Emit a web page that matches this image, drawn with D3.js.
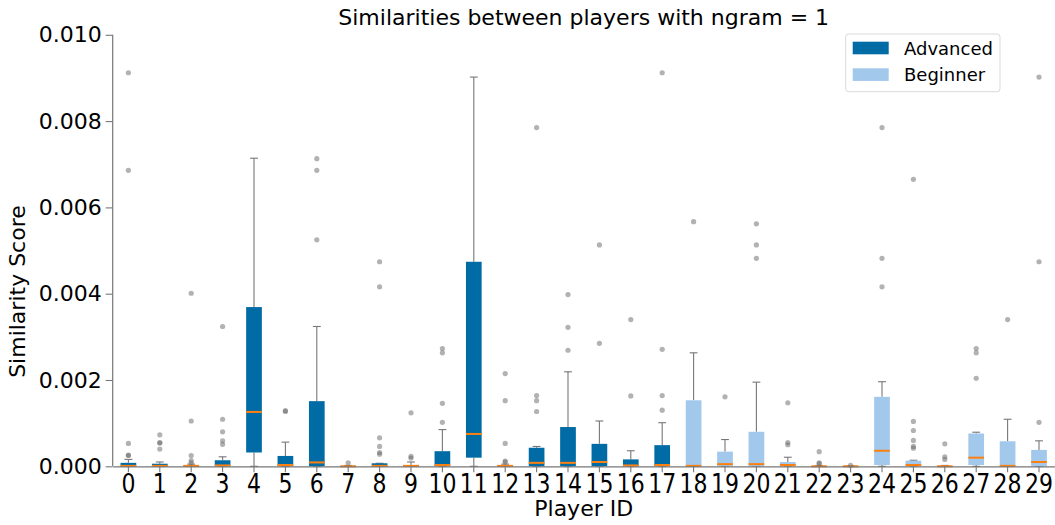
<!DOCTYPE html>
<html>
<head>
<meta charset="utf-8">
<script src="https://cdn.jsdelivr.net/npm/d3@7"></script>
<style>
  html, body { margin: 0; padding: 0; background: #fff; }
  svg { display: block; font-family: "DejaVu Sans", sans-serif; }
</style>
</head>
<body>
<svg id="chart" width="1055" height="525"></svg>
<script>
// Per-player box plot statistics (similarity score)
const playerIds = d3.range(30).map(String);
const groups = [
  "Advanced","Advanced","Advanced","Advanced","Advanced","Advanced","Advanced","Advanced","Advanced","Advanced",
  "Advanced","Advanced","Advanced","Advanced","Advanced","Advanced","Advanced","Advanced",
  "Beginner","Beginner","Beginner","Beginner","Beginner","Beginner","Beginner","Beginner","Beginner","Beginner","Beginner","Beginner"
];
const whiskerLow = new Array(30).fill(0);
const q1 = [0,0,0,0,0.00032,0,0,0,0,0,0,0.0002,0,0,0,0,0,0,0,0,0,0,0,0,0.00003,0,0,0.00003,0,0];
const medians = [0.00001,0.00001,0.00001,0.00002,0.00126,0.00003,0.00009,0,0.00001,0.00001,
  0.00003,0.00075,0.00001,0.00008,0.00008,0.0001,0.00002,0.00003,
  0.00001,0.00005,0.00005,0.00003,0,0,0.00036,0.00003,0,0.0002,0.00001,0.0001];
const q3 = [0.00008,0.00006,0.00002,0.00014,0.00369,0.00024,0.00151,0.00001,0.00007,0.00003,
  0.00035,0.00474,0.00003,0.00043,0.00091,0.00052,0.00016,0.00049,
  0.00153,0.00034,0.0008,0.0001,0.00001,0.00001,0.00161,0.00013,0.00001,0.00076,0.00058,0.00038];
const whiskerHigh = [0.00016,0.0001,0.00005,0.00022,0.00714,0.00056,0.00324,0.00002,0.00007,0.0001,
  0.00085,0.00902,0.00005,0.00046,0.00219,0.00105,0.00036,0.00101,
  0.00263,0.00062,0.00195,0.00021,0.00002,0.00001,0.00196,0.00014,0.00002,0.00079,0.00109,0.00059];
const outliers = [
  [0.00912,0.00686,0.00053,0.00026,0.00025],
  [0.00073,0.00055,0.00054,0.0004],
  [0.00401,0.00105,0.00025,0.00013,0.00008],
  [0.00324,0.00109,0.0008,0.00059,0.00051],
  [],
  [0.00129,0.00127],
  [0.00713,0.00686,0.00525],
  [0.00008],
  [0.00474,0.00416,0.00066,0.00046,0.00032,0.00028],
  [0.00124,0.00023,0.00019],
  [0.00273,0.00263,0.00146,0.00102],
  [],
  [0.00215,0.00152,0.00053,0.00012,0.0001],
  [0.00785,0.00164,0.00152,0.00127],
  [0.00398,0.00322,0.00269],
  [0.00513,0.00285],
  [0.0034,0.00163],
  [0.00912,0.00271,0.00164,0.0013],
  [0.00567],
  [0.00161],
  [0.00562,0.00513,0.00482],
  [0.00147,0.00055,0.0005],
  [0.00034,0.00008,0.00006],
  [0.00002],
  [0.00785,0.00482,0.00416],
  [0.00665,0.00104,0.00083,0.0006,0.00046,0.00042],
  [0.00052,0.00022,0.00016],
  [0.00273,0.00263,0.00204],
  [0.0034],
  [0.00902,0.00474,0.00102]
];
const yTicks = [0, 0.002, 0.004, 0.006, 0.008, 0.010];
const groupNames = ["Advanced", "Beginner"];
const groupColors = ["#006ba4", "#a2c8ec"];

const svg = d3.select("#chart");
const margin = { left: 112.7, right: 0.3, top: 34.8, bottom: 58.7 };
const W = 1055, H = 525;

const x = d3.scaleBand().domain(playerIds).range([margin.left, W - margin.right]).paddingInner(0).paddingOuter(0);
const y = d3.scaleLinear().domain([0, 0.010]).range([H - margin.bottom, margin.top]);
const color = d3.scaleOrdinal().domain(groupNames).range(groupColors);

const axisColor = "#777";

// Boxes
const rows = playerIds.map((id, i) => ({
  id, group: groups[i], lo: whiskerLow[i], q1: q1[i], med: medians[i], q3: q3[i], hi: whiskerHigh[i], fl: outliers[i]
}));
const bw = x.bandwidth() * 0.5;
const cw = x.bandwidth() * 0.25;
const cx = d => x(d.id) + x.bandwidth() / 2;

const g = svg.append("g");
const box = g.selectAll("g.box").data(rows).join("g").attr("class", "box");

// whiskers
box.append("line").attr("x1", cx).attr("x2", cx).attr("y1", d => y(d.q3)).attr("y2", d => y(d.hi))
  .attr("stroke", axisColor).attr("stroke-width", 1.1);
box.append("line").attr("x1", cx).attr("x2", cx).attr("y1", d => y(d.q1)).attr("y2", d => y(d.lo))
  .attr("stroke", axisColor).attr("stroke-width", 1.1);
// caps
box.append("line").attr("x1", d => cx(d) - cw / 2).attr("x2", d => cx(d) + cw / 2)
  .attr("y1", d => y(d.hi)).attr("y2", d => y(d.hi)).attr("stroke", axisColor).attr("stroke-width", 1.1);
box.append("line").attr("x1", d => cx(d) - cw / 2).attr("x2", d => cx(d) + cw / 2)
  .attr("y1", d => y(d.lo)).attr("y2", d => y(d.lo)).attr("stroke", axisColor).attr("stroke-width", 1.1);
// box body
box.append("rect").attr("x", d => cx(d) - bw / 2).attr("width", bw)
  .attr("y", d => y(d.q3)).attr("height", d => Math.max(0, y(d.q1) - y(d.q3)))
  .attr("fill", d => color(d.group));
// median
box.append("line").attr("x1", d => cx(d) - bw / 2).attr("x2", d => cx(d) + bw / 2)
  .attr("y1", d => y(d.med)).attr("y2", d => y(d.med))
  .attr("stroke", "#ff800e").attr("stroke-width", 2);
// fliers
box.selectAll("circle").data(d => d.fl.map(v => ({ v, d }))).join("circle")
  .attr("cx", p => cx(p.d)).attr("cy", p => y(p.v)).attr("r", 2.6)
  .attr("fill", "#666").attr("fill-opacity", 0.5);

// Axes
const yAxis = d3.axisLeft(y).tickValues(yTicks).tickFormat(d3.format(".3f")).tickSize(7).tickPadding(4);
const yG = svg.append("g").attr("transform", `translate(${margin.left},0)`).call(yAxis);
const xAxis = d3.axisBottom(x).tickSize(6).tickPadding(4).tickSizeOuter(0);
const xG = svg.append("g").attr("transform", `translate(0,${H - margin.bottom})`).call(xAxis);
yG.select(".domain").attr("d", `M0,${y(0)}V${y(0.010)}`);
[yG, xG].forEach(a => {
  a.select(".domain").attr("stroke", axisColor).attr("stroke-width", 1.2);
  a.selectAll(".tick line").attr("stroke", axisColor).attr("stroke-width", 1.1);
  a.selectAll("text").attr("fill", "#000").attr("font-family", "DejaVu Sans");
});
yG.selectAll("text").attr("font-size", 22);
// x tick labels: slightly tall digits, baseline 27px below the axis
xG.selectAll(".tick text").attr("font-size", 22).attr("y", 0).attr("dy", 0)
  .attr("transform", "translate(0,27) scale(1,1.22)");

// Labels
svg.append("text").attr("x", (margin.left + W - margin.right) / 2).attr("y", 25)
  .attr("text-anchor", "middle").attr("font-size", 22).text("Similarities between players with ngram = 1");
svg.append("text").attr("x", (margin.left + W - margin.right) / 2).attr("y", 516)
  .attr("text-anchor", "middle").attr("font-size", 22).text("Player ID");
svg.append("text").attr("transform", `translate(25,${(y(0) + y(0.010)) / 2 + 41}) rotate(-90)`)
  .attr("text-anchor", "middle").attr("font-size", 22).text("Similarity Score");

// Legend
const lg = svg.append("g");
lg.append("rect").attr("x", 845.7).attr("y", 34).attr("width", 154.3).attr("height", 57.7).attr("rx", 3)
  .attr("fill", "#fff").attr("fill-opacity", 0.85).attr("stroke", "#d9d9d9");
groupNames.forEach((n, i) => {
  lg.append("rect").attr("x", 852.7).attr("y", 41.7 + i * 26.6).attr("width", 36).attr("height", 12.6)
    .attr("fill", color(n));
  lg.append("text").attr("x", 904).attr("y", 54.5 + i * 26.6).attr("font-size", 18).text(n);
});
</script>
</body>
</html>
